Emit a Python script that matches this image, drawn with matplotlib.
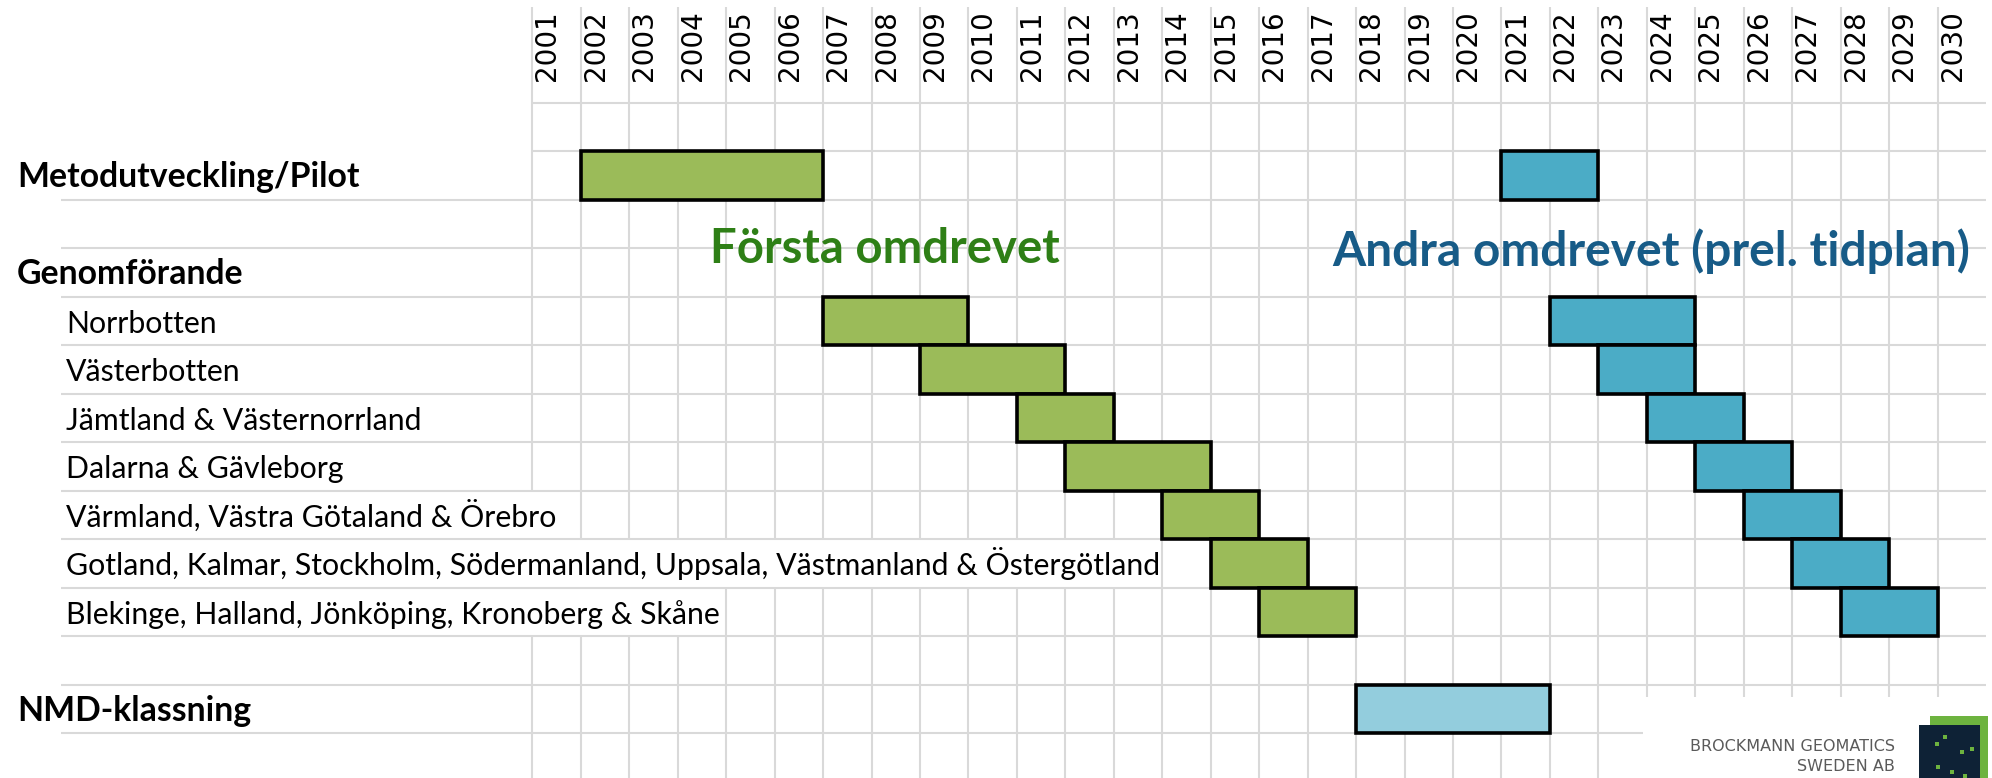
import matplotlib
matplotlib.use("Agg")
import matplotlib.pyplot as plt
from matplotlib.collections import LineCollection
from matplotlib.patches import Rectangle

# ---- data -------------------------------------------------------------
YEARS = list(range(2001, 2031))

PHASE_LABELS = ["Metodutveckling/Pilot", "Genomförande", "NMD-klassning"]
PHASE_ROWS = [1, 3, 12]

REGION_LABELS = [
    "Norrbotten",
    "Västerbotten",
    "Jämtland & Västernorrland",
    "Dalarna & Gävleborg",
    "Värmland, Västra Götaland & Örebro",
    "Gotland, Kalmar, Stockholm, Södermanland, Uppsala, Västmanland & Östergötland",
    "Blekinge, Halland, Jönköping, Kronoberg & Skåne",
]
REGION_ROWS = [4, 5, 6, 7, 8, 9, 10]

# pilot row + the seven regions, first and last year (inclusive)
BAR_ROWS = [1, 4, 5, 6, 7, 8, 9, 10]
FIRST_START = [2002, 2007, 2009, 2011, 2012, 2014, 2015, 2016]
FIRST_END = [2006, 2009, 2011, 2012, 2014, 2015, 2016, 2017]
SECOND_START = [2021, 2022, 2023, 2024, 2025, 2026, 2027, 2028]
SECOND_END = [2022, 2024, 2024, 2025, 2026, 2027, 2028, 2029]

NMD_ROW = 12
NMD_START = 2018
NMD_END = 2021

FIRST_TITLE = "Första omdrevet"
SECOND_TITLE = "Andra omdrevet (prel. tidplan)"

# ---- layout (pixels of the 1992x778 sheet) ----------------------------
W, H = 1992, 778
GRID_X0, COL_W = 532.3, 48.46
GRID_Y0, ROW_H = 102.7, 48.5
N_ROWS = 13

GREEN = "#9BBB59"
BLUE = "#4BACC6"
LIGHT_BLUE = "#93CDDD"
GRID_C = "#D9D9D9"


def dx(px):
    return YEARS[0] + (px - GRID_X0) / COL_W


def dy(py):
    return (py - GRID_Y0) / ROW_H


fig = plt.figure(figsize=(W / 100, H / 100), dpi=100)
ax = fig.add_axes([0, 0, 1, 1])
ax.set_xlim(dx(0), dx(W))
ax.set_ylim(dy(H), dy(0))
ax.axis("off")

# ---- row labels --------------------------------------------------------
label_texts = {}
for lab, r in zip(PHASE_LABELS, PHASE_ROWS):
    label_texts[r] = ax.text(dx(17), r + 0.74, lab, fontsize=24.3, fontweight="bold",
                             family="Lato", va="baseline", ha="left", zorder=4)
for lab, r in zip(REGION_LABELS, REGION_ROWS):
    label_texts[r] = ax.text(dx(66), r + 0.74, lab, fontsize=21.8,
                             family="Lato", va="baseline", ha="left", zorder=4)

# year headers
for y in YEARS:
    ax.text(y + 0.31, dy(10), str(y), rotation=90, fontsize=20,
            family="DejaVu Sans", ha="center", va="top", zorder=4)

# ---- grid (cells covered by overflowing text lose their borders) -------
fig.canvas.draw()
renderer = fig.canvas.get_renderer()
inv = ax.transData.inverted()
text_end = {}
for r, t in label_texts.items():
    bb = t.get_window_extent(renderer)
    text_end[r] = inv.transform((bb.x1, bb.y0))[0]

segs = []
for e in YEARS:  # vertical border at the left of each year column
    segs.append([(e, dy(7)), (e, 0)])
    for r in range(N_ROWS + 1):
        if r in text_end and e < text_end[r]:
            continue
        segs.append([(e, r), (e, min(r + 1, dy(H)))])
for r in range(N_ROWS + 1):
    x_left = YEARS[0] if r < 2 else dx(61)
    segs.append([(x_left, r), (YEARS[-1] + 1, r)])
ax.add_collection(LineCollection(segs, colors=GRID_C, linewidths=1.5, zorder=1))

# ---- bars --------------------------------------------------------------
bar_kw = dict(height=1, align="center", edgecolor="black", linewidth=2.6, zorder=3)
ax.barh([r + 0.5 for r in BAR_ROWS], [e - s + 1 for s, e in zip(FIRST_START, FIRST_END)],
        left=FIRST_START, color=GREEN, **bar_kw)
ax.barh([r + 0.5 for r in BAR_ROWS], [e - s + 1 for s, e in zip(SECOND_START, SECOND_END)],
        left=SECOND_START, color=BLUE, **bar_kw)
ax.barh([NMD_ROW + 0.5], [NMD_END - NMD_START + 1], left=[NMD_START],
        color=LIGHT_BLUE, **bar_kw)

# section titles
ax.text(dx(710), dy(263), FIRST_TITLE, fontsize=34, fontweight="bold",
        family="Lato", color="#2E7F16", ha="left", va="baseline", zorder=5)
ax.text(dx(1332), dy(266), SECOND_TITLE, fontsize=34.5, fontweight="bold",
        family="Lato", color="#175B87", ha="left", va="baseline", zorder=5)

# ---- company logo in the corner ----------------------------------------
ax.add_patch(Rectangle((dx(1643), dy(H)), dx(W) - dx(1643), dy(697) - dy(H),
                       facecolor="white", edgecolor="none", zorder=6))
ax.text(dx(1895), dy(751), "BROCKMANN GEOMATICS", fontsize=11.5, color="#5A5A5A",
        family="DejaVu Sans", ha="right", va="baseline", zorder=7)
ax.text(dx(1895), dy(771), "SWEDEN AB", fontsize=11.5, color="#5A5A5A",
        family="DejaVu Sans", ha="right", va="baseline", zorder=7)
ax.add_patch(Rectangle((dx(1930), dy(H)), dx(1988) - dx(1930), dy(716) - dy(H),
                       facecolor="#6DB33F", edgecolor="none", zorder=7))
ax.add_patch(Rectangle((dx(1919), dy(H)), dx(1980) - dx(1919), dy(725) - dy(H),
                       facecolor="#0E2236", edgecolor="none", zorder=8))
for px, py in [(1937, 740), (1945, 733), (1962, 748), (1972, 745), (1938, 763), (1952, 768), (1965, 772)]:
    ax.add_patch(Rectangle((dx(px - 2), dy(py + 2)), 4 / COL_W, 4 / ROW_H,
                           facecolor="#6DB33F", edgecolor="none", zorder=9))

fig.savefig("out.png", dpi=100)
